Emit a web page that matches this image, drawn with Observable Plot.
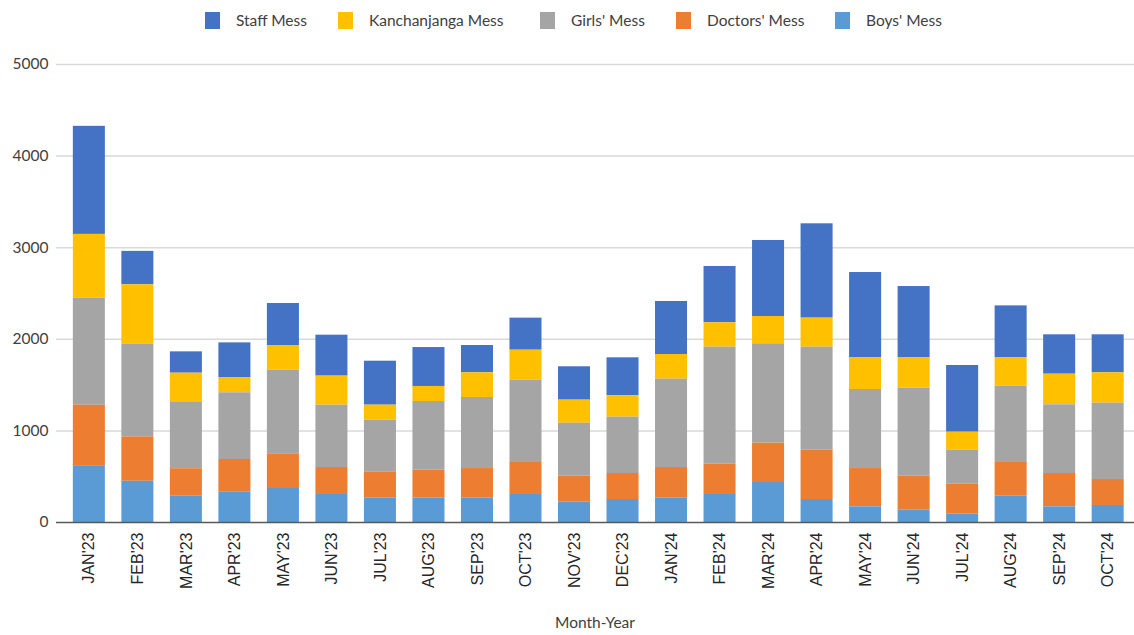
<!DOCTYPE html>
<html>
<head>
<meta charset="utf-8">
<script src="https://cdn.jsdelivr.net/npm/d3@7"></script>
<script src="https://cdn.jsdelivr.net/npm/@observablehq/plot@0.6"></script>
<style>
  html, body { margin: 0; padding: 0; background: #fff; }
  #wrap { position: relative; width: 1134px; height: 635px; overflow: hidden; font-family: Lato, "Open Sans", sans-serif; color: #404040; }
  #legend { position: absolute; top: 0; left: 0; width: 1134px; height: 40px; }
  .item { position: absolute; top: 11px; display: flex; align-items: center; font-size: 15.5px; }
  .sw { width: 15px; height: 17px; margin-right: 16px; }
  #chart { position: absolute; top: 40px; left: 0; }
  #xtitle { position: absolute; top: 613px; left: 56px; width: 1078px; text-align: center; font-size: 15.5px; }
  #chart g[aria-label="x-axis tick label"], #chart g[aria-label="x-axis tick label"] text { font-size: 16px !important; font-family: "Liberation Sans", Arial, sans-serif !important; }
  #chart g[aria-label="y-axis tick label"], #chart g[aria-label="y-axis tick label"] text { font-size: 15.5px !important; }
</style>
</head>
<body>
<div id="wrap">
  <div id="legend"></div>
  <div id="chart"></div>
  <div id="xtitle">Month-Year</div>
</div>
<script>
const months = ["JAN'23","FEB'23","MAR'23","APR'23","MAY'23","JUN'23","JUL'23","AUG'23","SEP'23","OCT'23","NOV'23","DEC'23","JAN'24","FEB'24","MAR'24","APR'24","MAY'24","JUN'24","JUL'24","AUG'24","SEP'24","OCT'24"];
const boys    = [620, 450, 287, 335, 371, 306, 269, 269, 269, 306, 222, 251, 269, 306, 437, 251, 171, 135,  91, 287, 171, 186];
const doctors = [660, 485, 300, 353, 379, 294, 284, 302, 320, 349, 284, 284, 331, 331, 429, 539, 418, 371, 327, 368, 364, 283];
const girls   = [1170,1010,730, 728, 913, 681, 564, 750, 776, 899, 578, 615, 965,1277,1085,1124, 863, 961, 372, 834, 750, 834];
const kanch   = [695, 650, 313, 167, 269, 317, 164, 164, 269, 327, 252, 233, 269, 266, 298, 317, 349, 334, 196, 312, 334, 331];
const staff   = [1180,365, 233, 378, 459, 447, 480, 425, 298, 350, 364, 415, 579, 615, 830,1030, 928, 775, 728, 564, 430, 415];
const yTicks = [0, 1000, 2000, 3000, 4000, 5000];

const seriesNames = ["Staff Mess", "Kanchanjanga Mess", "Girls' Mess", "Doctors' Mess", "Boys' Mess"];
const seriesColors = ["#4472C4", "#FFC000", "#A5A5A5", "#ED7D31", "#5B9BD5"];
const seriesValues = [staff, kanch, girls, doctors, boys];
const stackOrder = ["Boys' Mess", "Doctors' Mess", "Girls' Mess", "Kanchanjanga Mess", "Staff Mess"];

const data = [];
seriesNames.forEach((s, i) => {
  months.forEach((m, j) => data.push({month: m, series: s, value: seriesValues[i][j]}));
});

// legend
const legendX = [205, 338, 540, 676, 835];
const legend = document.getElementById("legend");
seriesNames.forEach((s, i) => {
  const it = document.createElement("div");
  it.className = "item";
  it.style.left = legendX[i] + "px";
  const sw = document.createElement("div");
  sw.className = "sw";
  sw.style.background = seriesColors[i];
  const t = document.createElement("span");
  t.textContent = s;
  it.appendChild(sw); it.appendChild(t);
  legend.appendChild(it);
});

const chart = Plot.plot({
  width: 1134,
  height: 570,
  marginLeft: 56,
  marginRight: 0,
  marginTop: 24,
  marginBottom: 88,
  style: {background: "white", fontFamily: "Lato, 'Open Sans', sans-serif", color: "#404040"},
  x: {domain: months, paddingInner: 0.34, paddingOuter: 0.28, align: 0.62, round: false, label: null},
  y: {domain: [0, 5000], label: null},
  color: {domain: seriesNames, range: seriesColors},
  marks: [
    Plot.ruleY(yTicks.filter(d => d > 0), {stroke: "#d9d9d9", strokeWidth: 1.5}),
    Plot.barY(data, {x: "month", y: "value", fill: "series", order: stackOrder}),
    Plot.ruleY([0], {stroke: "#595959", strokeWidth: 1.5}),
    Plot.axisY({ticks: yTicks, tickFormat: d => String(d), tickSize: 0, tickPadding: 8, fontSize: 15.5, label: null, fill: "#404040"}),
    Plot.axisX({tickRotate: -90, tickSize: 0, tickPadding: 10, fontSize: 16, label: null, fill: "#262626"})
  ]
});
document.getElementById("chart").appendChild(chart);
</script>
</body>
</html>
